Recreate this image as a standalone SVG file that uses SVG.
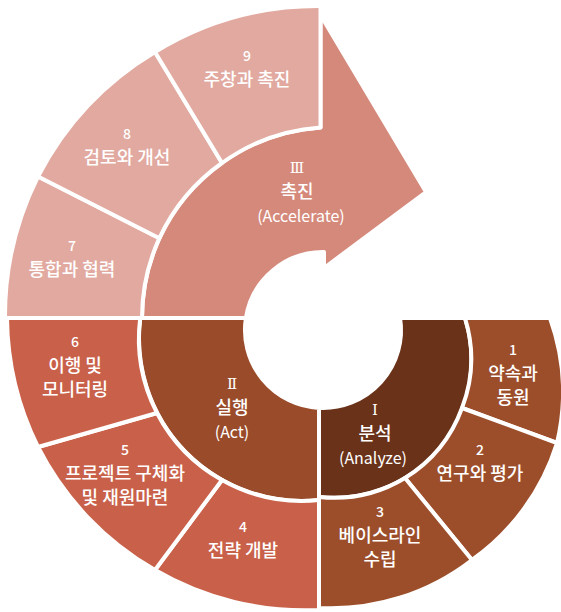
<svg xmlns="http://www.w3.org/2000/svg" width="561" height="612" viewBox="0 0 561 612">
<style>
.s{stroke:#fff;stroke-width:4;stroke-linejoin:round}
.t{font-family:"Noto Sans CJK KR","Noto Sans",sans-serif;fill:#fff;text-anchor:middle;font-weight:500}
.n{font-size:14px}
.k{font-size:18px}
.e{font-size:16px;font-weight:400}
.r{font-family:"DejaVu Serif","Liberation Serif","Noto Sans CJK KR",serif;font-size:15px;fill:#fff;text-anchor:middle}
.c1{fill:#6a3219}
.c2{fill:#9a4b2a}
.c3{fill:#9c4e2b}
.c4{fill:#c9614a}
.c5{fill:#d5897b}
.c6{fill:#e1a99f}
</style>
<rect width="561" height="612" fill="#fff"/>
<g id="phase-analyze">
<path class="s c1" d="M400.1,318 L465,318 A137.7,137.7 0 0 1 319,497 L319,407.9 A78,78 0 0 0 400.1,318 Z"/>
<text class="r" x="375" y="415">Ⅰ</text>
<text class="t k" x="375" y="440">분석</text>
<text class="t e" x="373" y="464">(Analyze)</text>
</g>
<g id="phase-act">
<path class="s c2" d="M319,407.9 L319,500 A163,163 0 0 1 140.2,318 L245.9,318 A78,78 0 0 0 319,407.9 Z"/>
<text class="r" x="232" y="389">Ⅱ</text>
<text class="t k" x="232" y="414">실행</text>
<text class="t e" x="232" y="438">(Act)</text>
</g>
<g id="phase-accelerate">
<path class="s c5" d="M142,318 A191,191 0 0 1 320.5,127.4 L320.5,15 L426,192 L324,268 L324,252 A78,78 0 0 0 245.9,318 Z"/>
<text class="r" x="297" y="173">Ⅲ</text>
<text class="t k" x="297" y="198">촉진</text>
<text class="t e" x="301" y="222">(Accelerate)</text>
</g>
<g id="step1">
<path class="s c3" d="M465,318 L550,318 A220,220 0 0 1 557,443 L462,408 A137.7,137.7 0 0 0 465,318 Z"/>
<text class="t n" x="513" y="355">1</text>
<text class="t k" x="513" y="380">약속과</text>
<text class="t k" x="513" y="404">동원</text>
</g>
<g id="step2">
<path class="s c3" d="M462,408 L557,443 A225,225 0 0 1 472,560 L405,478 A137.7,137.7 0 0 0 462,408 Z"/>
<text class="t n" x="480" y="455">2</text>
<text class="t k" x="480" y="480">연구와 평가</text>
</g>
<g id="step3">
<path class="s c3" d="M405,478 L472,560 A230,230 0 0 1 319,608 L319,497 A137.7,137.7 0 0 0 405,478 Z"/>
<text class="t n" x="380" y="517">3</text>
<text class="t k" x="380" y="542">베이스라인</text>
<text class="t k" x="380" y="566">수립</text>
</g>
<g id="step4">
<path class="s c4" d="M319,500 L319,610 A297,297 0 0 1 155,570 L222,480 A163,163 0 0 0 319,500 Z"/>
<text class="t n" x="243" y="532">4</text>
<text class="t k" x="243" y="557">전략 개발</text>
</g>
<g id="step5">
<path class="s c4" d="M222,480 L155,570 A297,297 0 0 1 38,447 L157,413 A163,163 0 0 0 222,480 Z"/>
<text class="t n" x="125" y="455">5</text>
<text class="t k" x="125" y="480">프로젝트 구체화</text>
<text class="t k" x="125" y="504">및 재원마련</text>
</g>
<g id="step6">
<path class="s c4" d="M157,413 L38,447 A297,297 0 0 1 7,318 L140.2,318 A163,163 0 0 0 157,413 Z"/>
<text class="t n" x="75" y="347">6</text>
<text class="t k" x="75" y="372">이행 및</text>
<text class="t k" x="75" y="396">모니터링</text>
</g>
<g id="step7">
<path class="s c6" d="M142,318 L5,318 A312,312 0 0 1 38,176.5 L159.4,238.2 A191,191 0 0 0 142,318 Z"/>
<text class="t n" x="72" y="251">7</text>
<text class="t k" x="72" y="276">통합과 협력</text>
</g>
<g id="step8">
<path class="s c6" d="M159.4,238.2 L38,176.5 A312,312 0 0 1 155,52 L222,163 A191,191 0 0 0 159.4,238.2 Z"/>
<text class="t n" x="127" y="139">8</text>
<text class="t k" x="127" y="164">검토와 개선</text>
</g>
<g id="step9">
<path class="s c6" d="M222,163 L155,52 A312,312 0 0 1 320.5,6 L320.5,127.4 A191,191 0 0 0 222,163 Z"/>
<text class="t n" x="247" y="61">9</text>
<text class="t k" x="247" y="86">주창과 촉진</text>
</g>
<g id="connectors"/>
</svg>
